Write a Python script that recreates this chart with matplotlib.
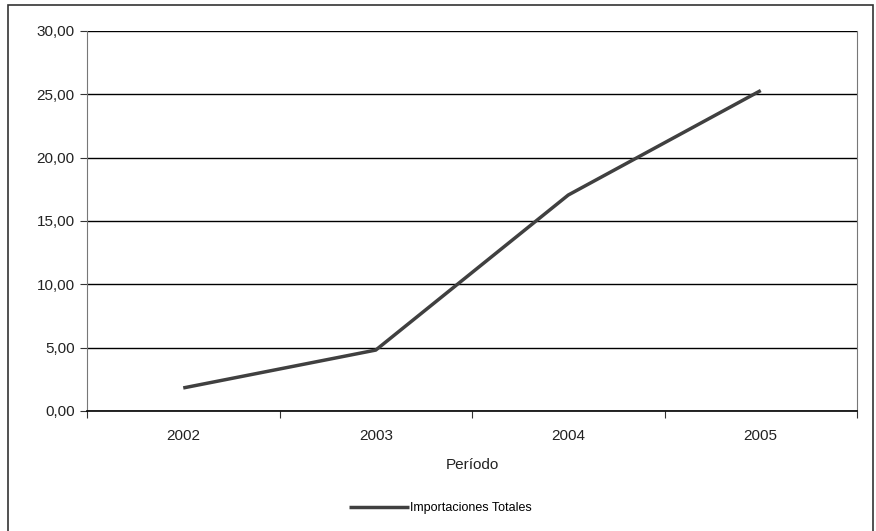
import matplotlib
matplotlib.use("Agg")
import matplotlib.pyplot as plt
from matplotlib.patches import Rectangle
from matplotlib.ticker import FuncFormatter

years = ["2002", "2003", "2004", "2005"]
importaciones = [1.82, 4.81, 17.05, 25.3]
y_ticks = [0, 5, 10, 15, 20, 25, 30]

plt.rcParams['font.family'] = ['Liberation Sans', 'DejaVu Sans']

W, H = 876, 531
fig = plt.figure(figsize=(W/100, H/100), dpi=100)
# outer frame
fig.patches.append(Rectangle((8/W, -0.05), (873-8)/W, 1.05 - 5/H, transform=fig.transFigure,
                             fill=False, edgecolor='#333333', linewidth=1.2))

ax = fig.add_axes([87/W, 1-411/H, (857-87)/W, (411-31)/H])
x = list(range(len(years)))
ax.plot(x, importaciones, color='#404040', linewidth=2.5, solid_capstyle='butt',
        label='Importaciones Totales')
ax.set_xlim(-0.5, 3.5)
ax.set_ylim(0, 30)
ax.set_yticks(y_ticks)
ax.yaxis.set_major_formatter(FuncFormatter(lambda v, p: f"{v:.2f}".replace('.', ',')))
ax.grid(axis='y', color='black', linewidth=1)
ax.set_axisbelow(True)
ax.set_xticks([i - 0.5 for i in range(len(years) + 1)])
ax.set_xticklabels([])
ax.set_xticks(x, minor=True)
ax.set_xticklabels(years, minor=True)
ax.tick_params(axis='x', which='minor', length=0, pad=13, labelsize=11, colors='#222222')
ax.tick_params(axis='x', which='major', length=5, direction='out', color='#333333')
ax.tick_params(axis='y', length=5, direction='out', pad=4, labelsize=11, labelcolor='#222222', color='#333333')
for s in ['left', 'right']:
    ax.spines[s].set_color('#777777')
ax.spines['top'].set_visible(False)
ax.spines['bottom'].set_color('black')
ax.spines['bottom'].set_linewidth(1.2)
ax.set_xlabel('Período', fontsize=11, color='#222222', labelpad=11)
leg = fig.legend(loc='center', bbox_to_anchor=(440/W, 1-508/H), frameon=False,
                 fontsize=9, handlelength=4.8, handletextpad=0.1)
fig.savefig('out.png', dpi=100)
